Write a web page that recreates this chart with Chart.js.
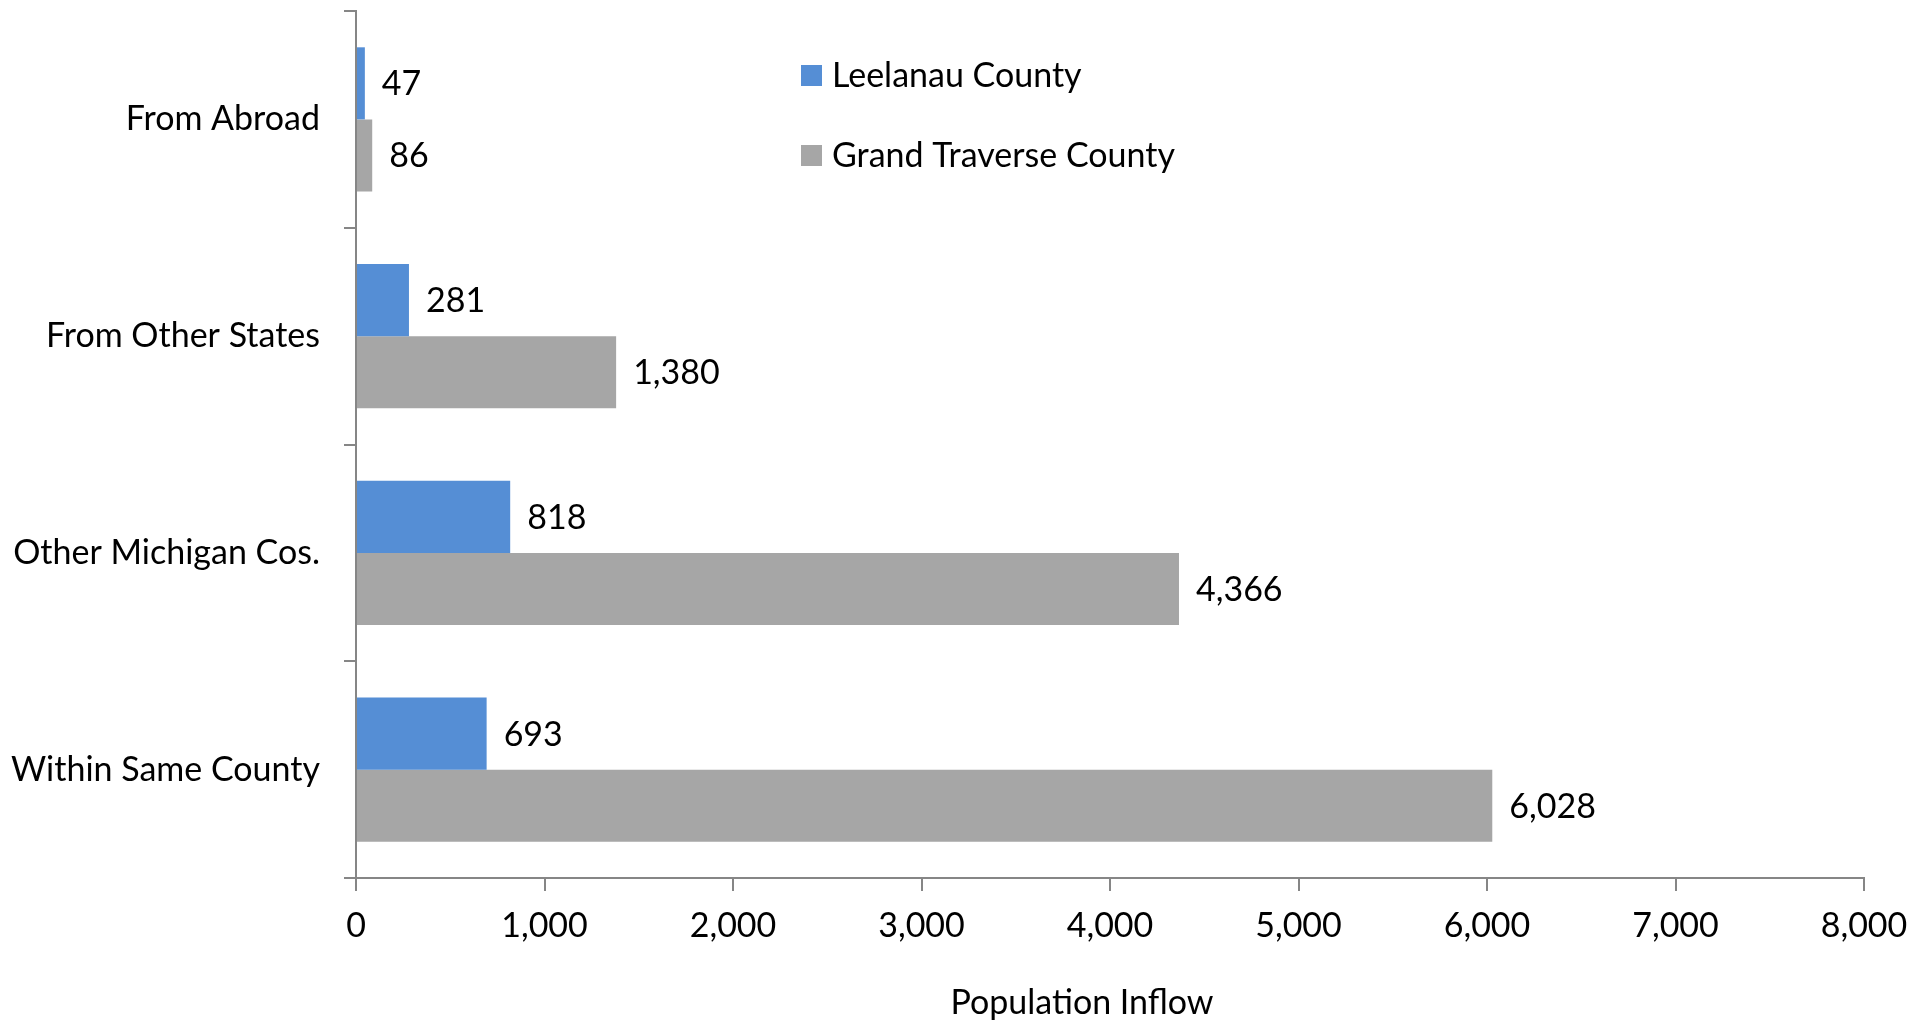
<!DOCTYPE html>
<html>
<head>
<meta charset="utf-8">
<title>Population Inflow</title>
<script src="https://cdn.jsdelivr.net/npm/chart.js@4/dist/chart.umd.min.js"></script>
<style>
  html, body { margin: 0; padding: 0; background: #fff; }
  #wrap { width: 1929px; height: 1021px; }
</style>
</head>
<body>
<div id="wrap"><canvas id="inflow" width="1929" height="1021"></canvas></div>
<script>
const categories = ['From Abroad', 'From Other States', 'Other Michigan Cos.', 'Within Same County'];
const leelanau = [47, 281, 818, 693];
const grandTraverse = [86, 1380, 4366, 6028];
const xTicks = [0, 1000, 2000, 3000, 4000, 5000, 6000, 7000, 8000];
const xTitle = 'Population Inflow';

const FONT = 'Lato, "Open Sans", sans-serif';
const AXIS = '#868686';

// numbers at the end of each bar
const valueLabels = {
    id: 'valueLabels',
    afterDatasetsDraw(chart){
        const ctx = chart.ctx;
        ctx.save();
        ctx.font = '34px ' + FONT;
        ctx.fillStyle = '#000';
        ctx.textBaseline = 'middle';
        ctx.textAlign = 'left';
        chart.data.datasets.forEach((ds, i) => {
            chart.getDatasetMeta(i).data.forEach((bar, j) => {
                ctx.fillText(ds.data[j].toLocaleString('en-US'), bar.x + 17, bar.y + 1);
            });
        });
        ctx.restore();
    }
};

// stacked legend inside the plot + axis title a bit left of center
const sideLegend = {
    id: 'sideLegend',
    afterDraw(chart){
        const ctx = chart.ctx;
        ctx.save();
        ctx.font = '34px ' + FONT;
        ctx.textBaseline = 'middle';
        chart.data.datasets.forEach((ds, i) => {
            const y = 75 + i * 80;
            ctx.fillStyle = ds.backgroundColor;
            ctx.fillRect(801, y - 10, 21, 21);
            ctx.fillStyle = '#000';
            ctx.fillText(ds.label, 832, y + 1);
        });
        ctx.textAlign = 'center';
        ctx.fillText(xTitle, 1082, 1003);
        ctx.restore();
    }
};

new Chart(document.querySelector('#inflow'), {
    type: 'bar',
    data: {
        labels: categories,
        datasets: [{
            label: 'Leelanau County',
            backgroundColor: '#558ED5',
            data: leelanau
        }, {
            label: 'Grand Traverse County',
            backgroundColor: '#A6A6A6',
            data: grandTraverse
        }]
    },
    options: {
        indexAxis: 'y',
        responsive: false,
        animation: false,
        layout: { padding: { top: 11, right: 65, left: 0, bottom: 0 } },
        datasets: { bar: { categoryPercentage: 0.665, barPercentage: 1.0 } },
        scales: {
            x: {
                min: 0,
                max: 8000,
                afterBuildTicks: s => { s.ticks = xTicks.map(v => ({ value: v })); },
                ticks: {
                    color: '#000',
                    font: { family: FONT, size: 34 },
                    padding: 15,
                    maxRotation: 0,
                    callback: v => v.toLocaleString('en-US')
                },
                grid: { drawOnChartArea: false, tickLength: 13, color: AXIS, lineWidth: 2 },
                border: { color: AXIS, width: 2 },
                afterFit: s => { s.height = 143; }
            },
            y: {
                ticks: {
                    color: '#000',
                    font: { family: FONT, size: 34 },
                    padding: 24
                },
                grid: { drawOnChartArea: false, tickLength: 12, color: AXIS, lineWidth: 2, offset: true },
                border: { color: AXIS, width: 2 },
                afterFit: s => { s.width = 356; s.paddingTop = 0; s.paddingBottom = 0; }
            }
        },
        plugins: {
            legend: { display: false },
            tooltip: { enabled: false }
        }
    },
    plugins: [valueLabels, sideLegend]
});
</script>
</body>
</html>
